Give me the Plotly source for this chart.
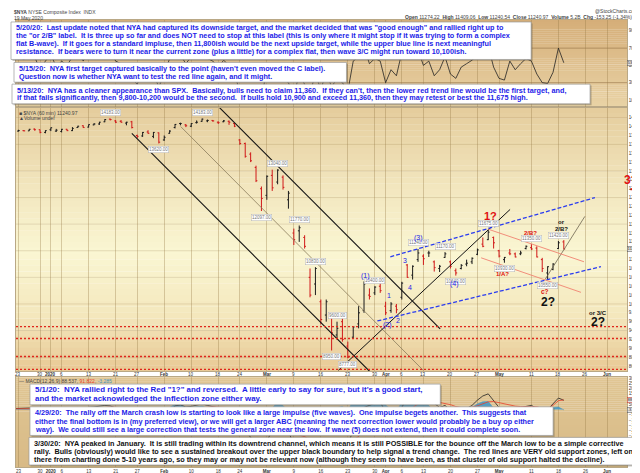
import numpy as np
import pandas as pd
import plotly.graph_objects as go

# page pixels of the plotting area (left, right, top, bottom)
L, R, T, B = 7, 619, 12, 465

holidays = ["2019-12-25", "2020-01-01", "2020-01-20", "2020-02-17", "2020-04-10", "2020-05-25"]
sessions = pd.bdate_range("2019-12-20", "2020-06-05")
sessions = sessions[~sessions.isin(pd.to_datetime(holidays))]
session_index = {d.strftime("%Y-%m-%d"): i for i, d in enumerate(sessions)}

# daily bars, Dec 20 2019 -> May 19 2020
opens = [13880, 13900, 13910, 13905, 13945, 13930, 13870,
         13930, 13900, 13890, 13940, 13910, 13980, 14020, 13990, 14040, 14060, 14110, 14170,
         14130, 14120, 14080, 14110, 13800, 13790, 13880, 13780, 13860,
         13700, 13850, 13980, 14070, 14040, 14010, 14090, 14120, 14130, 14140, 14100, 14110, 14120, 14070,
         13700, 13620, 13380, 13080, 12600,
         12450, 12900, 12750, 12860, 12350, 11600, 11650, 11500, 10600, 10450, 10050, 9750, 9700, 9300, 9600,
         9050, 9250, 9550, 9850, 10200, 10250, 10400,
         9950, 9850, 9950, 10150, 10880, 10650, 11000, 11080, 11150, 10950, 10800, 11050, 10950, 10750,
         10800, 10900, 10950, 11120, 11350, 11450, 11500,
         11200, 11000, 11150, 11130, 11130, 11250, 11270, 11260, 11000, 10700, 10780, 11250, 11400]
highs = [13920, 13930, 13920, 13950, 13960, 13935, 13920,
         13980, 13950, 13950, 13950, 13990, 14020, 14030, 14050, 14080, 14110, 14170, 14183,
         14150, 14150, 14110, 14130, 13820, 13880, 13920, 13880, 13870,
         13800, 13920, 14060, 14090, 14060, 14080, 14140, 14183, 14160, 14150, 14120, 14150, 14140, 14080,
         13720, 13640, 13420, 13120, 12650,
         12900, 13030, 13040, 12900, 12550, 11700, 11770, 11550, 10800, 10830, 10100, 10100, 9750, 9600, 9700,
         9150, 9500, 9950, 10510, 10350, 10400, 10480,
         10050, 10040, 10000, 10500, 10900, 10870, 11240, 11120, 11200, 10980, 10880, 11170, 10980, 10800,
         10900, 11000, 11050, 11250, 11500, 11675, 11520,
         11220, 11060, 11240, 11160, 11200, 11320, 11350, 11300, 11040, 10850, 10920, 11420, 11440]
lows = [13870, 13890, 13895, 13900, 13910, 13850, 13850,
        13900, 13880, 13870, 13900, 13900, 13970, 13970, 13980, 14030, 14040, 14100, 14140,
        14080, 14090, 14030, 13960, 13740, 13770, 13840, 13740, 13620,
        13680, 13840, 13960, 14030, 13990, 13990, 14070, 14110, 14100, 14110, 14060, 14100, 14040, 13990,
        13590, 13300, 13200, 12750, 12097,
        12350, 12550, 12700, 12580, 12150, 11330, 11400, 11250, 10150, 10200, 9540, 9600, 8950, 9200, 9150,
        8777, 9230, 9450, 9800, 10100, 10200, 10250,
        9750, 9800, 9790, 10100, 10590, 10550, 10950, 10880, 11060, 10730, 10720, 11040, 10800, 10640,
        10780, 10850, 10900, 11100, 11280, 11440, 11250,
        11050, 10930, 11100, 11050, 11100, 11230, 11220, 11050, 10720, 10550, 10760, 11240, 11230]
closes = [13900, 13910, 13905, 13940, 13930, 13870, 13910,
          13975, 13920, 13940, 13910, 13960, 14010, 13980, 14045, 14060, 14100, 14160, 14160,
          14100, 14100, 14100, 13980, 13780, 13870, 13850, 13870, 13650,
          13760, 13900, 14050, 14070, 14020, 14070, 14100, 14170, 14140, 14130, 14090, 14130, 14100, 14010,
          13620, 13330, 13230, 12780, 12380,
          12880, 12620, 13020, 12630, 12500, 11450, 11720, 11300, 10200, 10800, 9650, 10050, 9350, 9450, 9200,
          8800, 9480, 9800, 10450, 10170, 10380, 10300,
          9800, 10000, 9870, 10470, 10600, 10850, 11150, 11020, 11150, 10820, 10850, 11130, 10850, 10700,
          10870, 10920, 11030, 11220, 11300, 11620, 11380,
          11080, 11050, 11130, 11060, 11150, 11300, 11240, 11060, 10800, 10840, 10900, 11380, 11241]

rsi = [58, 60, 57, 62, 60, 45, 55,
       63, 48, 55, 50, 60, 66, 55, 68, 65, 70, 72, 68,
       55, 52, 50, 35, 28, 45, 42, 40, 25,
       40, 58, 68, 62, 52, 60, 64, 70, 58, 55, 48, 56, 50, 40,
       20, 18, 22, 15, 12,
       45, 35, 52, 35, 30, 15, 40, 28, 18, 40, 22, 42, 25, 35, 30,
       20, 55, 60, 72, 52, 58, 55,
       30, 45, 38, 65, 62, 60, 68, 50, 55, 38, 45, 60, 40, 35,
       48, 52, 56, 62, 66, 72, 48,
       35, 33, 55, 45, 52, 58, 55, 40, 30, 29, 42, 70, 53]
macd = [10, 12, 8, 15, 10, -5, 0,
        10, -5, 0, -3, 8, 20, 10, 22, 25, 30, 40, 35,
        15, 5, 0, -20, -60, -45, -35, -30, -70,
        -50, -10, 35, 45, 25, 30, 40, 55, 40, 30, 15, 20, 12, -10,
        -120, -200, -260, -330, -420,
        -300, -200, -120, -150, -200, -350, -330, -320, -420, -300, -380, -330, -350, -300, -280,
        -330, -200, -120, 20, 40, 60, 70,
        -20, -60, -80, 20, 120, 150, 200, 150, 120, 60, 20, 40, -10, -40,
        -20, 10, 40, 90, 130, 150, 90,
        20, -20, 0, 10, 15, 30, 40, 10, -50, 0, 60, 110, 88.537]
signal = [8, 9, 9, 10, 10, 7, 5,
          6, 4, 3, 2, 3, 6, 7, 10, 13, 16, 21, 24,
          22, 18, 15, 8, -5, -13, -17, -20, -30,
          -34, -29, -16, -4, 2, 8, 14, 22, 26, 27, 24, 23, 21, 15,
          -12, -50, -92, -140, -196,
          -217, -213, -195, -186, -189, -221, -243, -258, -291, -293, -310, -314, -321, -317, -310,
          -314, -291, -257, -201, -153, -110, -74,
          -63, -62, -66, -49, -15, 18, 54, 73, 82, 78, 66, 61, 47, 29,
          19, 17, 22, 36, 55, 74, 77,
          66, 49, 39, 33, 29, 29, 31, 27, 12, 10, 40, 85, 91.822]

tick_dates = ["2019-12-23", "2019-12-30", "2020-01-02", "2020-01-06", "2020-01-13", "2020-01-21",
              "2020-01-27", "2020-02-03", "2020-02-10", "2020-02-18", "2020-02-24", "2020-03-02",
              "2020-03-09", "2020-03-16", "2020-03-23", "2020-03-30", "2020-04-01", "2020-04-06",
              "2020-04-13", "2020-04-20", "2020-04-27", "2020-05-01", "2020-05-11", "2020-05-18",
              "2020-05-26", "2020-06-01"]
tick_text = ["23", "30", "<b>2020</b>", "6", "13", "21", "27", "<b>Feb</b>", "10", "18", "24",
             "<b>Mar</b>", "9", "16", "23", "30", "<b>Apr</b>", "6", "13", "20", "27", "<b>May</b>",
             "11", "18", "26", "<b>Jun</b>"]

support_levels = [9490, 9220, 8815, 8525]
# the 11200 label sits under the last-price tag
price_ticks = [v for v in range(8600, 14201, 200) if v != 11200]
price_grid = list(range(8800, 14201, 600))
macd_ticks = [v for v in range(-250, 301, 50) if v != 0]

# marked highs / lows (session index, H or L)
marked_days = [18, 27, 35, 46, 49, 53, 56, 59, 60, 62, 67, 75, 80, 82, 88, 91, 96, 99, 101]
marked_kind = ["H", "L", "H", "L", "H", "H", "H", "L", "H", "L", "H", "H", "H", "L", "H", "L", "H", "L", "H"]

box_a = ["5/20/20:  Last update noted that NYA had captured its downside target, and the market decided that was \"good enough\" and rallied right up to",
         "the \"or 2/B\" label.  It is three up so far and does NOT need to stop at this label (this is only where it might stop if it was trying to form a complex",
         "flat B-wave).  If it goes for a standard impluse, then 11,800ish would be the next upside target, while the upper blue line is next meaningful",
         "resistance.  If bears were to turn it near the current zone (plus a little) for a complex flat, then wave 3/C might run toward 10,100ish."]
box_b = ["5/15/20:  NYA first target captured basically to the point (haven't even moved the C label).",
         "Question now is whether NYA want to test the red line again, and it might."]
box_c = ["5/13/20:  NYA has a cleaner appearance than SPX.  Basically, bulls need to claim 11,360.  If they can't, then the lower red trend line would be the first target, and,",
         "if that fails significantly, then 9,800-10,200 would be the second.  If bulls hold 10,900 and exceed 11,360, then they may retest or best the 11,675 high."]
box_d = ["5/1/20:  NYA rallied right to the Red \"1?\" and reversed.  A little early to say for sure, but it's a good start,",
         "and the market acknowledged the inflection zone either way."]
box_e = ["4/29/20:  The rally off the March crash low is starting to look like a large impulse (five waves).  One impulse begets another.  This suggests that",
         "either the final bottom is in (my preferred view), or we will get a larger ABC (meaning the next correction lower would probably be a buy op either",
         "way).  We could still see a large correction that tests the general zone near the low.  If wave (5) does not extend, then it could complete soon."]
box_f = ["3/30/20:  NYA peaked in January.  It is still trading within its downtrend channel, which means it is still POSSIBLE for the bounce off the March low to be a simple corrective",
         "rally.  Bulls (obviously) would like to see a sustained breakout over the upper black boundary to help signal a trend change.  The red lines are VERY old support zones, left on",
         "there from charting done 5-10 years ago, so they may or may not be relevant now (although they seem to have been, as that cluster of old support halted the decline)."]


def fx(p):
    return (p - L) / (R - L)


def fy(p):
    return (B - p) / (B - T)


FONT = "Liberation Sans, Arial, sans-serif"
n_bars = len(closes)
bar_x = list(range(n_bars))
tick_x = [session_index[d] for d in tick_dates]
x_range = [0.55, 113.7]

fig = go.Figure()

fig.add_trace(go.Ohlc(x=bar_x, open=opens, high=highs, low=lows, close=closes,
                      increasing=dict(line=dict(color="#1a1a1a", width=1)),
                      decreasing=dict(line=dict(color="#d01818", width=1)),
                      tickwidth=0.25, xaxis="x", yaxis="y", showlegend=False, hoverinfo="skip"))

# trend lines (session index, price)
trend_lines = [
    ([38.1, 79.1], [14447, 9438], "#111111", 1.1, "solid"),
    ([22.0, 66.4], [13846, 8436], "#111111", 1.1, "solid"),
    ([31.05, 75.97], [14002, 8503], "#8a7c5c", 0.8, "solid"),
    ([60.26, 92.05], [8503, 12132], "#111111", 1.0, "solid"),
    ([98.52, 105.9], [10551, 11976], "#6d6450", 0.8, "solid"),
    ([69.87, 107.76], [11063, 12399], "#2a3cf0", 1.3, "4px,2px"),
    ([67.47, 108.87], [9616, 10841], "#2a3cf0", 1.3, "4px,2px"),
    ([87.99, 105.73], [11687, 10952], "#f08272", 0.9, "solid"),
    ([86.69, 105.18], [11041, 10262], "#f08272", 0.9, "solid"),
]
for xs, ys, col, w, dash in trend_lines:
    fig.add_trace(go.Scatter(x=xs, y=ys, mode="lines", xaxis="x", yaxis="y",
                             line=dict(color=col, width=w, dash=dash),
                             showlegend=False, hoverinfo="skip"))

# RSI panel
fig.add_trace(go.Scatter(x=bar_x, y=rsi, mode="lines", xaxis="x3", yaxis="y3",
                         line=dict(color="#222", width=0.8), showlegend=False, hoverinfo="skip"))

# MACD panel
hist = np.array(macd) - np.array(signal)
fig.add_trace(go.Scatter(x=bar_x, y=hist, mode="lines", fill="tozeroy", xaxis="x2", yaxis="y2",
                         line=dict(color="#3d93c0", width=0.5), fillcolor="rgba(60,150,200,0.85)",
                         showlegend=False, hoverinfo="skip"))
fig.add_trace(go.Scatter(x=bar_x, y=macd, mode="lines", xaxis="x2", yaxis="y2",
                         line=dict(color="#222", width=0.8), showlegend=False, hoverinfo="skip"))
fig.add_trace(go.Scatter(x=bar_x, y=signal, mode="lines", xaxis="x2", yaxis="y2",
                         line=dict(color="#e8402a", width=0.8), showlegend=False, hoverinfo="skip"))

shapes = []


def lerp_color(stops, t):
    for (t0, c0), (t1, c1) in zip(stops[:-1], stops[1:]):
        if t0 <= t <= t1:
            u = (t - t0) / (t1 - t0) if t1 > t0 else 0
            c = [round(a + (b - a) * u) for a, b in zip(c0, c1)]
            return "rgb(%d,%d,%d)" % tuple(c)
    return "rgb(%d,%d,%d)" % tuple(stops[-1][1])


def gradient(y_top, y_bot, stops, n=45):
    for k in range(n):
        t0, t1 = k / n, (k + 1) / n
        shapes.append(dict(type="rect", xref="paper", yref="paper", layer="below",
                           x0=0, x1=1, y0=fy(y_top + t1 * (y_bot - y_top)) - 0.0005,
                           y1=fy(y_top + t0 * (y_bot - y_top)),
                           fillcolor=lerp_color(stops, (t0 + t1) / 2), line=dict(width=0)))


gradient(12, 100, [(0, (213, 174, 120)), (1, (233, 211, 166))])
gradient(100, 368, [(0, (228, 204, 156)), (0.3, (242, 230, 190)), (0.55, (250, 246, 210)),
                    (0.78, (244, 232, 190)), (1, (232, 200, 148))])
gradient(374, 465, [(0, (224, 198, 148)), (1, (216, 186, 134))])

for lvl in price_grid:
    shapes.append(dict(type="line", xref="x domain", yref="y", x0=0, x1=1, y0=lvl, y1=lvl,
                       layer="below", line=dict(color="rgba(150,120,70,0.28)", width=0.8)))
for lvl in [70, 30]:
    shapes.append(dict(type="line", xref="x3 domain", yref="y3", x0=0, x1=1, y0=lvl, y1=lvl,
                       layer="below", line=dict(color="rgba(140,105,60,0.6)", width=0.9)))
for lvl in support_levels:
    shapes.append(dict(type="line", xref="x domain", yref="y", x0=0, x1=1, y0=lvl, y1=lvl,
                       layer="above", line=dict(color="#e0261c", width=1.3, dash="2px,2px")))

annotations = []


def note_box(lines, x0, x1, y0, y1, line_y, color, size=7.25):
    shapes.append(dict(type="rect", xref="paper", yref="paper", layer="above",
                       x0=fx(x0 + 1.5), x1=fx(x1 + 1.5), y0=fy(y1 + 1.5), y1=fy(y0 + 1.5),
                       fillcolor="rgba(90,80,60,0.35)", line=dict(width=0)))
    shapes.append(dict(type="rect", xref="paper", yref="paper", layer="above",
                       x0=fx(x0), x1=fx(x1), y0=fy(y1), y1=fy(y0),
                       fillcolor="white", line=dict(color="#9a9a9a", width=0.7)))
    for txt, yy in zip(lines, line_y):
        annotations.append(dict(xref="paper", yref="paper", x=fx(x0 + 3), y=fy(yy),
                                xanchor="left", yanchor="middle", showarrow=False,
                                text="<b>" + txt.replace("  ", "\u00a0 ") + "</b>",
                                font=dict(family=FONT, size=size, color=color)))


BLUE = "#1c22e8"
note_box(box_a, 2, 523, 14, 52, [20, 28, 36, 44], BLUE)
note_box(box_b, 5, 338, 55, 75, [61.5, 69.5], BLUE)
note_box(box_c, 3, 582, 77, 97, [83, 91], BLUE)
note_box(box_d, 21, 432, 381, 402, [386.5, 395.5], BLUE, size=7.9)
note_box(box_e, 21, 545, 404, 433, [410, 419, 427.5], BLUE)
note_box(box_f, 20, 645, 435, 463, [441, 449, 457.5], "#111111")

# date labels in the strip between price and MACD panels
for x, txt in zip(tick_x, tick_text):
    annotations.append(dict(x=x, xref="x", y=fy(370.8), yref="paper", showarrow=False,
                            yanchor="middle", text=txt,
                            font=dict(family=FONT, size=4.5, color="#333")))

# marked highs and lows
for d, k in zip(marked_days, marked_kind):
    val = highs[d] if k == "H" else lows[d]
    annotations.append(dict(x=d, y=val, xref="x", yref="y", showarrow=False,
                            yshift=6 if k == "H" else -6, text="%.2f" % val,
                            font=dict(family=FONT, size=4.5, color="#777"),
                            bgcolor="white", bordercolor="#b5b5b5", borderwidth=0.5, borderpad=0.5))

# wave labels
wave_labels = [
    ("(1)", 65.25, 10640, BLUE, 7, False), ("1", 69.7, 10195, BLUE, 7, False),
    ("(2)", 69.3, 9527, BLUE, 7, False), ("2", 71.35, 9616, BLUE, 7, False),
    ("3", 72.6, 10974, BLUE, 7, False), ("4", 73.6, 10373, BLUE, 7, False),
    ("(3)", 75.05, 11486, BLUE, 7, False), ("(4)", 81.7, 10440, BLUE, 7, False),
    ("1?", 88.5, 11976, "#e01010", 11, True), ("1/A?", 90.57, 10684, "#e01010", 6, True),
    ("2/B?", 95.75, 11597, "#e01010", 6, True), ("c?", 98.5, 10283, "#e01010", 6.5, True),
    ("2?", 99.1, 10050, "#111", 12, True), ("or", 101.5, 11842, "#111", 6, True),
    ("2/B?", 101.5, 11686, "#111", 6, True), ("or 3/C", 108.3, 9793, "#111", 6, True),
    ("2?", 108.3, 9590, "#111", 12, True),
]
for txt, x, y, col, size, bold in wave_labels:
    annotations.append(dict(x=x, y=y, xref="x", yref="y", showarrow=False,
                            text="<b>%s</b>" % txt if bold else txt,
                            font=dict(family=FONT, size=size, color=col)))

annotations.append(dict(xref="paper", yref="paper", x=fx(632), y=fy(174), showarrow=False,
                        text="<b>3?</b>", font=dict(family=FONT, size=12, color="#e01010")))
annotations.append(dict(xref="paper", yref="paper", x=fx(631), y=fy(184), showarrow=False,
                        text="<b>\u27a1</b>", font=dict(family="DejaVu Sans", size=8, color="#e01010")))

# header and panel legends
small = dict(family=FONT, size=5, color="#444")
header = [
    (3, 4, "left", "<b>$NYA</b> NYSE Composite Index  INDX"),
    (3, 9.5, "left", "19 May 2020"),
    (632, 3, "right", "@StockCharts.com"),
    (632, 9, "right", "<b>Open</b> 11274.22  <b>High</b> 11409.06  <b>Low</b> 11240.54  "
                      "<b>Close</b> 11240.97  <b>Volume</b> 5.2B  <b>Chg</b> -153.25 (-1.34%) \u25bc"),
    (8, 106, "left", "\u25a0 $NYA (60 min) 11240.97"),
    (8, 111, "left", "\u25b2Volume undef"),
    (8, 377.5, "left", "\u2014 MACD(12,26,9) 88.537, <span style='color:#e8402a'>91.822</span>, "
                       "<span style='color:#3d93c0'>-3.285</span>"),
]
for x, y, anc, txt in header:
    annotations.append(dict(xref="paper", yref="paper", x=fx(x), y=fy(y), xanchor=anc,
                            yanchor="middle", showarrow=False, text=txt.replace("  ", "\u00a0 "),
                            font=small))

# current value tags on the right axis
for y, txt, border in [(244, "11240.97", "#555"), (56, "53.29", "#555"),
                       (397, "88.537", "#d03020"), (407, "-3.285", "#555")]:
    annotations.append(dict(xref="paper", yref="paper", x=fx(619.3), y=fy(y), xanchor="left",
                            yanchor="middle", showarrow=False, text=txt,
                            font=dict(family=FONT, size=3.8, color="#222"),
                            bgcolor="#e4e4e4", bordercolor=border, borderwidth=0.5, borderpad=0.3))

grid_col = "rgba(150,120,70,0.35)"
xcommon = dict(range=x_range, tickvals=tick_x, ticktext=tick_text, showgrid=True,
               gridcolor=grid_col, gridwidth=0.8, zeroline=False, ticks="",
               tickfont=dict(family=FONT, size=4.5, color="#333"),
               showline=True, linecolor="#b9a886", linewidth=0.8, mirror=True)
ycommon = dict(side="right", showgrid=False, zeroline=False, ticks="",
               tickfont=dict(family=FONT, size=4.5, color="#333"),
               showline=True, linecolor="#b9a886", linewidth=0.8, mirror=True)

fig.update_layout(
    width=640, height=473,
    margin=dict(l=L, r=640 - R, t=T, b=473 - B),
    paper_bgcolor="white", plot_bgcolor="rgba(0,0,0,0)",
    showlegend=False,
    xaxis=dict(xcommon, anchor="y", rangeslider=dict(visible=False), showticklabels=False),
    xaxis2=dict(xcommon, anchor="y2", showticklabels=True),
    xaxis3=dict(xcommon, anchor="y3", showticklabels=False),
    yaxis=dict(ycommon, domain=[fy(368), fy(100)], range=[8481, 14447], tickvals=price_ticks),
    yaxis2=dict(ycommon, domain=[0, fy(374)], range=[-548, 309], tickvals=macd_ticks),
    yaxis3=dict(ycommon, domain=[fy(100), 1], range=[2, 102.6], tickvals=[10, 30, 50, 70, 90]),
    shapes=shapes,
    annotations=annotations,
)

fig.write_html("out.html")
